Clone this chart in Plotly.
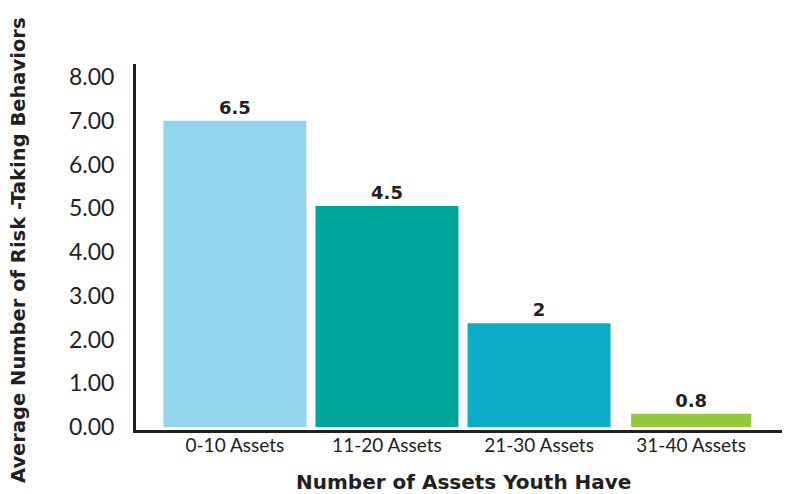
import plotly.graph_objects as go

categories = ["0-10 Assets", "11-20 Assets", "21-30 Assets", "31-40 Assets"]
bar_values = [7.0, 5.05, 2.37, 0.3]
bar_labels = ["6.5", "4.5", "2", "0.8"]
bar_colors = ["#94D4EC", "#00A59A", "#0CABC7", "#95C83F"]
bar_widths = [0.94, 0.94, 0.94, 0.79]
y_ticks = [0, 1, 2, 3, 4, 5, 6, 7, 8]
y_tick_labels = ["0.00", "1.00", "2.00", "3.00", "4.00", "5.00", "6.00", "7.00", "8.00"]
x_title = "Number of Assets Youth Have"
y_title = "Average Number of Risk -Taking Behaviors"

ink = "#231F20"
# page body has an 8px offset; size the figure so it ends at the window edge
OFF = 8
W, H = 790 - OFF, 494 - OFF
L, R, T, B = 136 - OFF, 0, 64 - OFF, 64
pw = W - L - R
ph = H - T - B

fig = go.Figure(
    go.Bar(
        x=categories,
        y=bar_values,
        text=bar_labels,
        textposition="outside",
        textfont=dict(family="DejaVu Sans", size=18, color=ink, weight="bold"),
        marker=dict(color=bar_colors, line=dict(width=0)),
        width=bar_widths,
        cliponaxis=False,
        constraintext="none",
        hoverinfo="skip",
    )
)

fig.update_layout(
    width=W,
    height=H,
    margin=dict(l=L, r=R, t=T, b=B, autoexpand=False),
    paper_bgcolor="white",
    plot_bgcolor="white",
    showlegend=False,
    font=dict(family="Lato", color=ink),
    xaxis=dict(
        range=[-0.65, 3.65],
        showline=True,
        linecolor=ink,
        linewidth=3,
        ticks="",
        showgrid=False,
        automargin=False,
        tickfont=dict(size=19, color=ink),
        ticklabelstandoff=-4,
    ),
    yaxis=dict(
        range=[-0.07, 8.3],
        tickvals=y_ticks,
        ticktext=y_tick_labels,
        showline=True,
        linecolor=ink,
        linewidth=3,
        ticks="",
        showgrid=False,
        zeroline=False,
        automargin=False,
        tickfont=dict(size=23, color=ink),
        ticklabelstandoff=14,
    ),
    annotations=[
        dict(
            text=x_title,
            xref="paper", yref="paper",
            x=(463 - OFF - L) / pw, y=-(482 - OFF - (H - B)) / ph,
            xanchor="center", yanchor="middle",
            showarrow=False,
            font=dict(family="DejaVu Sans", size=20, weight="bold", color=ink),
        ),
        dict(
            text=y_title,
            xref="paper", yref="paper",
            x=-(L - (18 - OFF)) / pw, y=((H - B) - (250 - OFF)) / ph,
            xanchor="center", yanchor="middle",
            textangle=-90,
            showarrow=False,
            font=dict(family="DejaVu Sans", size=19.5, weight="bold", color=ink),
        ),
    ],
)

fig.write_html("out.html")
